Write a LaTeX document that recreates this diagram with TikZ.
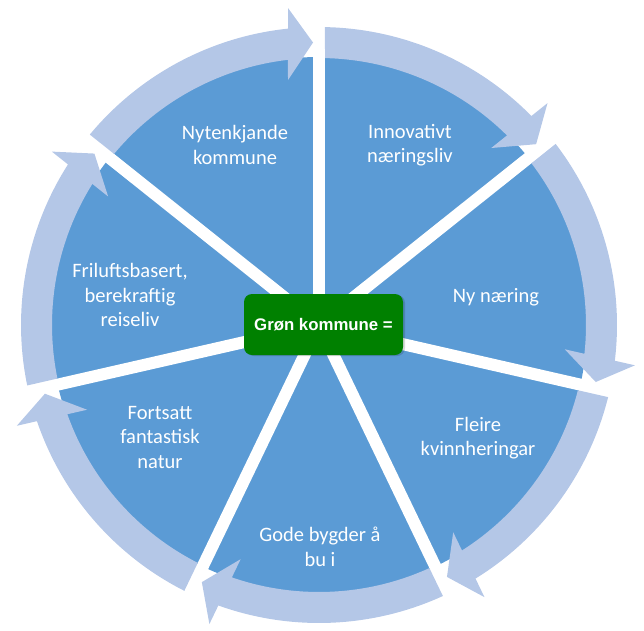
\documentclass[tikz,border=0pt]{standalone}
\usepackage{fontspec}
\setmainfont{Carlito}
\newfontfamily\hubfont{Liberation Sans}
\usepackage{tikz}

\definecolor{wedgeblue}{RGB}{91,155,213}
\definecolor{ringblue}{RGB}{180,199,231}
\definecolor{hubgreen}{RGB}{0,128,0}

\begin{document}
\begin{tikzpicture}[x=1pt,y=1pt]
        \tikzstyle{wedgetext}=[text=white, align=center, font=\fontsize{20.5}{24.5}\selectfont]
        \tikzstyle{hub}=[rectangle, rounded corners=8pt, fill=hubgreen, minimum width=159pt, minimum height=61pt, text=white, font=\hubfont\bfseries\fontsize{16.8}{20}\selectfont]
        \useasboundingbox (-319,-305) rectangle (325,325);
        % pie with white gaps
        \fill[wedgeblue] (0,0) circle (268);
        \foreach \k in {0,...,6}
          \draw[white, line width=12pt] (0,0) -- (90-\k*360/7:272);
        % ring of arrows, clockwise
        \foreach \k in {0,...,6}{
          \begin{scope}[rotate=-\k*360/7]
            \fill[ringblue] (140.28:298) arc[start angle=140.28, end angle=95.97, radius=298]
              -- (-31,317) -- (-6,282.5) -- (-31,245)
              -- (96.67:267) arc[start angle=96.67, end angle=140.14, radius=267] -- cycle;
          \end{scope}
        }
        \fill[black, opacity=0.15, rounded corners=8pt] (-73,-31) rectangle (86,30);
        \node[hub] (hub) at (4.5,0.5) {Grøn kommune =};
        \node[wedgetext] (nytenk) at (-84,180) {Nytenkjande\\kommune};
        \node[wedgetext] (innov) at (91,180) {Innovativt\\næringsliv};
        \node[wedgetext] (nynaer) at (177,28) {Ny næring};
        \node[wedgetext] (kvinn) at (159,-113) {Fleire\\kvinnheringar};
        \node[wedgetext] (bygder) at (1,-222) {Gode bygder å\\bu i};
        \node[wedgetext] (natur) at (-159,-112) {Fortsatt\\fantastisk\\natur};
        \node[wedgetext] (frilu) at (-189,30) {Friluftsbasert,\\berekraftig\\reiseliv};
\end{tikzpicture}
\end{document}
